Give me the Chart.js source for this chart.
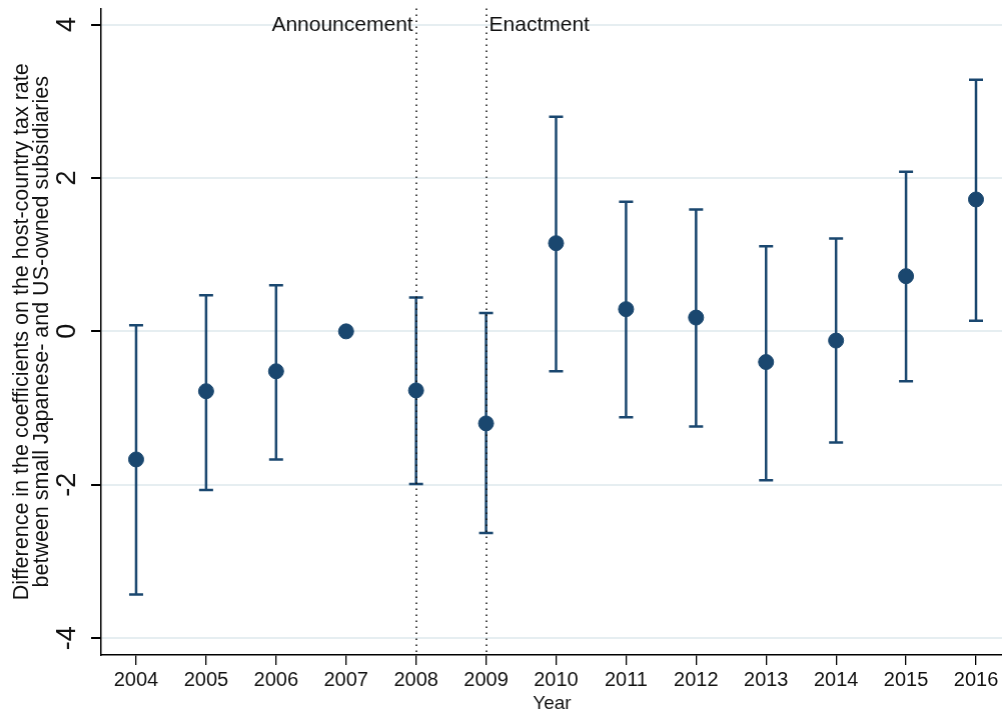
<!DOCTYPE html>
<html>
<head>
<meta charset="utf-8">
<script src="https://cdn.jsdelivr.net/npm/chart.js@4/dist/chart.umd.min.js"></script>
<style>
  html, body { margin: 0; padding: 0; background: #fff; overflow: hidden; }
  #wrap { width: 1002px; height: 715px; position: relative; }
</style>
</head>
<body>
<div id="wrap"><canvas id="coefChart"></canvas></div>
<script>
const years = [2004, 2005, 2006, 2007, 2008, 2009, 2010, 2011, 2012, 2013, 2014, 2015, 2016];
const estimates = [-1.67, -0.78, -0.52, 0, -0.77, -1.20, 1.15, 0.29, 0.18, -0.40, -0.12, 0.72, 1.72];
const ciLow = [-3.43, -2.07, -1.67, null, -1.99, -2.63, -0.52, -1.12, -1.24, -1.94, -1.45, -0.65, 0.14];
const ciHigh = [0.08, 0.47, 0.60, null, 0.44, 0.24, 2.80, 1.69, 1.59, 1.11, 1.21, 2.08, 3.28];
const yTicks = [-4, -2, 0, 2, 4];
const events = [
  { year: 2008, label: 'Announcement', side: 'left' },
  { year: 2009, label: 'Enactment', side: 'right' }
];
const yTitle = [
  'Difference in the coefficients on the host-country tax rate',
  'between small Japanese- and US-owned subsidiaries'
];

const navy = '#1a476f';
const FONT = '"Liberation Sans", Arial, sans-serif';
const PAGE_W = 1002;

// whiskers with caps, drawn under the points
const errorBars = {
  id: 'errorBars',
  beforeDatasetsDraw(chart) {
    const { ctx, scales: { x, y } } = chart;
    ctx.save();
    ctx.strokeStyle = navy;
    ctx.lineWidth = 2.5;
    years.forEach((yr, i) => {
      if (ciLow[i] === null) return;
      const px = x.getPixelForValue(yr);
      const lo = y.getPixelForValue(ciLow[i]);
      const hi = y.getPixelForValue(ciHigh[i]);
      ctx.beginPath();
      ctx.moveTo(px, lo);
      ctx.lineTo(px, hi);
      ctx.moveTo(px - 7, lo);
      ctx.lineTo(px + 7, lo);
      ctx.moveTo(px - 7, hi);
      ctx.lineTo(px + 7, hi);
      ctx.stroke();
    });
    ctx.restore();
  }
};

// policy event markers plus rotated axis text
const annotations = {
  id: 'annotations',
  beforeDatasetsDraw(chart) {
    const { ctx, chartArea, scales: { x } } = chart;
    ctx.save();
    ctx.strokeStyle = '#111';
    ctx.lineWidth = 1.5;
    ctx.setLineDash([1.5, 4.5]);
    events.forEach((ev) => {
      const px = Math.round(x.getPixelForValue(ev.year));
      ctx.beginPath();
      ctx.moveTo(px, chartArea.top);
      ctx.lineTo(px, chartArea.bottom);
      ctx.stroke();
    });
    ctx.setLineDash([]);
    ctx.fillStyle = '#111';
    ctx.font = '21px ' + FONT;
    ctx.textBaseline = 'middle';
    events.forEach((ev) => {
      const px = x.getPixelForValue(ev.year);
      ctx.textAlign = ev.side === 'left' ? 'right' : 'left';
      ctx.fillText(ev.label, ev.side === 'left' ? px - 3 : px + 3, 25);
    });
    ctx.restore();
  },
  afterDraw(chart) {
    const { ctx, chartArea, scales: { y } } = chart;
    ctx.save();
    ctx.fillStyle = '#111';
    ctx.textAlign = 'center';
    ctx.textBaseline = 'middle';
    ctx.font = '27px ' + FONT;
    yTicks.forEach((v) => {
      ctx.save();
      ctx.translate(68, y.getPixelForValue(v));
      ctx.rotate(-Math.PI / 2);
      ctx.fillText(String(v), 0, 0);
      ctx.restore();
    });
    ctx.font = '21.5px ' + FONT;
    ctx.textBaseline = 'alphabetic';
    const cy = (chartArea.top + chartArea.bottom) / 2;
    yTitle.forEach((line, i) => {
      ctx.save();
      ctx.translate(28 + i * 20, cy);
      ctx.rotate(-Math.PI / 2);
      ctx.fillText(line, 0, 0);
      ctx.restore();
    });
    ctx.restore();
  }
};

const chart = new Chart(document.getElementById('coefChart'), {
  type: 'scatter',
  data: {
    datasets: [{
      data: years.map((yr, i) => ({ x: yr, y: estimates[i] })),
      backgroundColor: navy,
      borderColor: navy,
      pointRadius: 7.5,
      pointHoverRadius: 7.5
    }]
  },
  options: {
    responsive: true,
    maintainAspectRatio: false,
    animation: false,
    layout: { padding: { top: 8, right: 0, left: 0, bottom: 0 } },
    plugins: { legend: { display: false }, tooltip: { enabled: false } },
    scales: {
      x: {
        type: 'linear',
        min: 2003.5,
        max: 2016.386,
        afterBuildTicks: (scale) => { scale.ticks = years.map((v) => ({ value: v })); },
        afterFit: (scale) => {
          scale.height = 60;
          scale.paddingLeft = 0;
          scale.paddingRight = 0;
        },
        grid: { drawOnChartArea: false, drawTicks: true, tickLength: 10, color: '#000', lineWidth: 1.3 },
        border: { display: true, color: '#000', width: 1.5 },
        ticks: {
          color: '#111',
          font: { family: FONT, size: 20 },
          padding: 3,
          maxRotation: 0,
          callback: (v) => String(v)
        },
        title: {
          display: true,
          text: 'Year',
          color: '#111',
          font: { family: FONT, size: 19 },
          padding: { top: 0, bottom: 0 }
        }
      },
      y: {
        min: -4.22,
        max: 4.21,
        afterBuildTicks: (scale) => { scale.ticks = yTicks.map((v) => ({ value: v })); },
        afterFit: (scale) => { scale.width = 101; },
        grid: { color: '#e6eef1', lineWidth: 2, tickColor: '#000', tickLength: 10, drawTicks: true },
        border: { display: true, color: '#000', width: 1.5 },
        ticks: { display: true, color: 'rgba(0,0,0,0)', font: { size: 1 }, callback: () => '' }
      }
    }
  },
  plugins: [errorBars, annotations]
});

// stretch the canvas so the plot area runs to the page edge
const gap = PAGE_W - chart.chartArea.right;
if (gap > 0) {
  document.getElementById('wrap').style.width = (PAGE_W + gap) + 'px';
  chart.resize(PAGE_W + gap, 715);
}
</script>
</body>
</html>
